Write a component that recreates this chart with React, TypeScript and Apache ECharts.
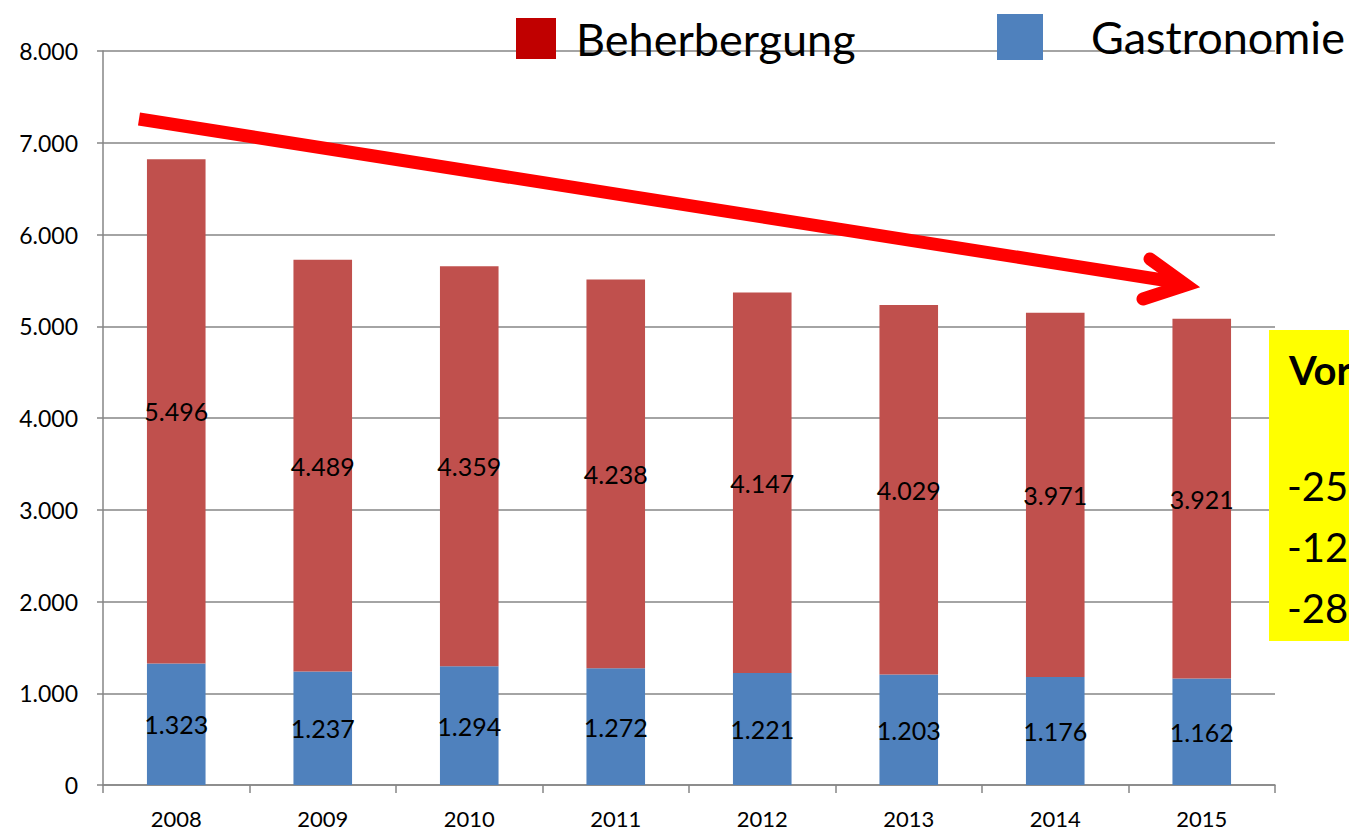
import React, { useEffect, useRef } from "react";
import * as echarts from "echarts";

const years = ["2008", "2009", "2010", "2011", "2012", "2013", "2014", "2015"];
const gastronomie = [1323, 1237, 1294, 1272, 1221, 1203, 1176, 1162];
const beherbergung = [5496, 4489, 4359, 4238, 4147, 4029, 3971, 3921];
const boxLines = ["-25,5%", "-12,2%", "-28,7%"];

const FONT = "Lato, 'Liberation Sans', sans-serif";

function fmt(v: number): string {
  const s = Math.round(v).toString();
  return s.replace(/\B(?=(\d{3})+(?!\d))/g, ".");
}

export default function App() {
  const ref = useRef<HTMLDivElement>(null);
  useEffect(() => {
    if (!ref.current) return;
    const chart = echarts.init(ref.current, undefined, { renderer: "svg" });
    chart.setOption({
      animation: false,
      backgroundColor: "#ffffff",
      textStyle: { fontFamily: FONT },
      legend: [
        {
          left: 511,
          top: 11,
          itemWidth: 40,
          itemHeight: 41,
          icon: "rect",
          selectedMode: false,
          data: [{ name: "Beherbergung", itemStyle: { color: "#c00000" } }],
          textStyle: { fontSize: 45, color: "#000", fontFamily: FONT, padding: [0, 0, 4, 15] },
        },
        {
          left: 992,
          top: 9,
          itemWidth: 46,
          itemHeight: 46,
          icon: "rect",
          selectedMode: false,
          data: [{ name: "Gastronomie", itemStyle: { color: "#4f81bd" } }],
          textStyle: { fontSize: 45, color: "#000", fontFamily: FONT, padding: [0, 0, 4, 43] },
        },
      ],
      grid: { left: 103, right: 74, top: 51, bottom: 46, containLabel: false },
      xAxis: {
        type: "category",
        data: years,
        axisLine: { lineStyle: { color: "#868686", width: 1.5 } },
        axisTick: { show: true, length: 8, lineStyle: { color: "#868686", width: 1.5 } },
        axisLabel: { color: "#000", fontSize: 22, margin: 22, fontFamily: FONT },
      },
      yAxis: {
        type: "value",
        min: 0,
        max: 8000,
        interval: 1000,
        axisLine: { show: true, lineStyle: { color: "#868686", width: 1.5 } },
        axisTick: { show: true, length: 6, lineStyle: { color: "#868686", width: 1.5 } },
        axisLabel: { color: "#000", fontSize: 23, margin: 25, formatter: (v: number) => fmt(v), fontFamily: FONT },
        splitLine: { lineStyle: { color: "#868686", width: 1.5 } },
      },
      series: [
        {
          name: "Gastronomie",
          type: "bar",
          stack: "total",
          barWidth: "40%",
          data: gastronomie,
          itemStyle: { color: "#4f81bd" },
          label: {
            show: true,
            position: "inside",
            color: "#000",
            fontSize: 25,
            fontFamily: FONT,
            formatter: (p: any) => fmt(p.value),
          },
        },
        {
          name: "Beherbergung",
          type: "bar",
          stack: "total",
          barWidth: "40%",
          data: beherbergung,
          itemStyle: { color: "#c0504d" },
          label: {
            show: true,
            position: "inside",
            color: "#000",
            fontSize: 25,
            fontFamily: FONT,
            formatter: (p: any) => fmt(p.value),
          },
        },
      ],
      graphic: [
        {
          type: "polyline",
          z: 100,
          shape: { points: [[139, 119], [1182, 283]] },
          style: { stroke: "#ff0000", lineWidth: 13, lineCap: "butt", fill: null },
        },
        {
          type: "polyline",
          z: 100,
          shape: { points: [[1150, 259], [1186, 285], [1143, 299]] },
          style: { stroke: "#ff0000", lineWidth: 13, lineCap: "round", lineJoin: "miter", fill: null },
        },
        {
          type: "rect",
          z: 90,
          shape: { x: 1269, y: 330, width: 100, height: 311 },
          style: { fill: "#ffff00" },
        },
        {
          type: "text",
          z: 95,
          x: 1289,
          y: 370,
          style: {
            text: "Vorjahre 2008–2015",
            fontSize: 40,
            fontWeight: "bold",
            fill: "#000",
            fontFamily: FONT,
            verticalAlign: "middle",
          },
        },
        ...boxLines.map((t, i) => ({
          type: "text",
          z: 95,
          x: 1287,
          y: 486 + i * 61,
          style: {
            text: t,
            fontSize: 40,
            fill: "#000",
            fontFamily: FONT,
            verticalAlign: "middle",
          },
        })),
      ],
    });
    return () => chart.dispose();
  }, []);
  return (
    <div
      ref={ref}
      style={{ position: "absolute", left: 0, top: 0, width: 1349, height: 831, overflow: "hidden" }}
    />
  );
}
